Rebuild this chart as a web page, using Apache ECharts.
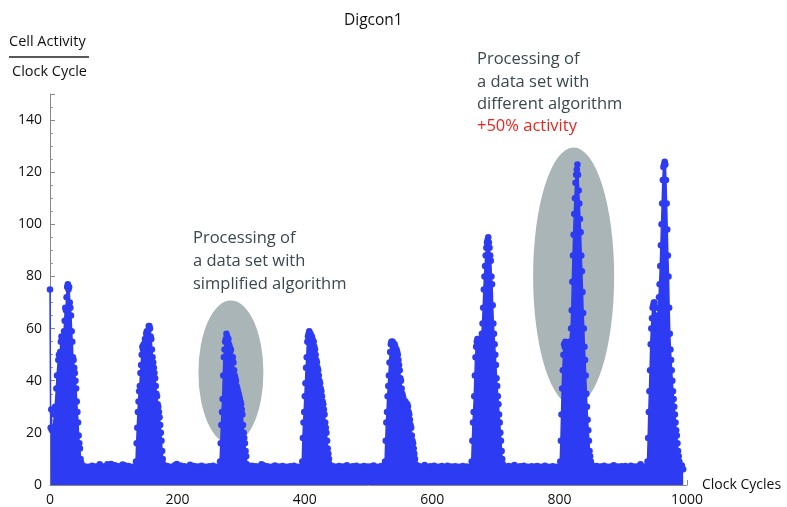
<!DOCTYPE html>
<html>
<head>
<meta charset="utf-8">
<script src="https://cdn.jsdelivr.net/npm/echarts@6/dist/echarts.min.js"></script>
<style>
  html, body { margin: 0; padding: 0; background: #fff; }
  #chart { width: 787px; height: 507px; }
</style>
</head>
<body>
<div id="chart"></div>
<script>
// [clock cycle, cell activity per clock cycle]
const burst1 = [[0,75],[1,22],[2,29],[3,21],[5,22],[7,27],[8,30],[10,37],[11,42],[13,48],[14,50],[16,51],[17,55],[18,57],[20,56],[22,59],[23,63],[24,68],[25,67],[26,72],[27,76],[28,77],[29,75],[30,76],[31,70],[32,68],[33,65],[34,59],[35,55],[36,49],[37,48],[38,45],[39,43],[40,40],[41,37],[42,32],[43,28],[44,24],[45,19],[46,16],[47,14],[48,10],[49,8.5]];
const idle1 = [[51,6.8],[54,7.2],[57,6.5],[60,7.0],[63,6.6],[66,7.4],[69,6.9],[72,7.1],[75,6.4],[78,8.0],[81,7.3],[84,6.7],[87,7.0],[90,8.0],[93,7.2],[96,8.1],[99,6.9],[102,7.6],[105,6.8],[108,7.2],[111,6.6],[114,7.9],[117,7.6],[120,6.6],[123,7.3],[126,6.9],[129,7.0],[132,6.5]];
const burst2 = [[135,9],[136,16],[137,22],[138,28],[139,32],[140,36],[141,38],[142,43],[143,46],[144,50],[145,53],[146,52],[147,54],[148,53],[149,56],[150,55],[151,58],[152,59],[153,57],[154,59],[155,61],[156,61],[157,60],[158,57],[159,56],[160,52],[161,49],[162,47],[163,45],[164,43],[165,41],[166,38],[167,35],[168,34],[169,31],[170,30],[171,28],[172,26],[173,23],[174,20],[175,17],[176,13],[177,10],[178,8]];
const idle2 = [[181,6.9],[184,7.3],[187,6.6],[190,7.0],[193,6.8],[196,7.6],[199,8.1],[202,7.0],[205,7.5],[208,6.7],[211,7.2],[214,6.6],[217,7.0],[220,7.8],[223,6.9],[226,7.3],[229,6.6],[232,7.1],[235,6.8],[238,7.4],[241,6.7],[244,7.0],[247,6.5],[250,7.2],[253,6.9],[256,7.4],[259,6.6],[262,7.0],[265,6.8]];
const burst3 = [[267,9],[268,16],[269,23],[270,28],[271,33],[272,42],[273,49],[274,52],[275,55],[276,56],[277,58],[278,57],[279,55],[280,56],[281,54],[282,53],[283,51],[284,52],[285,49],[286,48],[287,49],[288,47],[289,44],[290,42],[291,41],[292,40],[293,38],[294,37],[295,36],[296,35],[297,34],[298,33],[299,32],[300,31],[301,29],[302,27],[303,23],[304,20],[305,18],[306,16],[307,13],[308,11],[309,8]];
const idle3 = [[311,7.0],[314,6.6],[317,7.4],[320,6.9],[323,7.2],[326,6.5],[329,7.1],[332,8.0],[335,7.6],[338,6.8],[341,7.2],[344,6.6],[347,7.0],[350,6.7],[353,7.5],[356,6.8],[359,7.1],[362,6.6],[365,7.3],[368,6.9],[371,7.0],[374,6.5],[377,7.2],[380,6.8],[383,7.4],[386,6.7],[389,7.0],[392,6.6],[395,7.1]];
const burst4 = [[396,9],[397,18],[398,24],[399,28],[400,34],[401,39],[402,45],[403,49],[404,55],[405,57],[406,58],[407,59],[408,58],[409,58],[410,57],[411,57],[412,56],[413,55],[414,55],[415,53],[416,52],[417,50],[418,48],[419,47],[420,45],[421,44],[422,42],[423,40],[424,39],[425,37],[426,36],[427,34],[428,32],[429,31],[430,29],[431,27],[432,24],[433,22],[434,20],[435,17],[436,14],[437,12],[438,10],[439,8]];
const idle4 = [[442,6.8],[445,7.2],[448,6.6],[451,7.0],[454,7.3],[457,6.7],[460,7.1],[463,6.9],[466,7.6],[469,7.0],[472,6.5],[475,7.2],[478,6.8],[481,7.4],[484,6.6],[487,7.0],[490,6.9],[493,7.3],[496,6.7],[499,7.1],[502,6.6],[505,7.2],[508,7.5],[511,6.8],[514,7.0],[517,6.6],[520,7.3],[523,6.9]];
const burst5 = [[526,9],[527,17],[528,24],[529,28],[530,34],[531,38],[532,42],[533,47],[534,51],[535,54],[536,55],[537,55],[538,55],[539,54],[540,53],[541,54],[542,53],[543,52],[544,52],[545,51],[546,50],[547,48],[548,46],[549,44],[550,41],[551,40],[552,37],[553,35],[554,34],[555,33],[556,31],[557,31],[558,32],[559,31],[560,31],[561,31],[562,30],[563,28],[564,27],[565,25],[566,23],[567,22],[568,19],[569,17],[570,16],[571,14],[572,12],[573,10],[574,8]];
const idle5 = [[576,6.9],[579,7.3],[582,6.6],[585,7.0],[588,7.7],[591,7.1],[594,6.6],[597,7.2],[600,6.8],[603,7.4],[606,6.7],[609,7.0],[612,6.6],[615,7.3],[618,7.0],[621,6.7],[624,7.4],[627,6.8],[630,7.1],[633,6.6],[636,7.2],[639,6.9],[642,7.0],[645,6.5],[648,7.3],[651,6.8],[654,7.1],[657,6.7],[660,7.0]];
const burst6 = [[662,9],[663,17],[664,24],[665,28],[666,34],[667,42],[668,49],[669,53],[670,55],[671,56],[672,56],[673,55],[674,53],[675,56],[676,55],[677,55],[678,58],[679,62],[680,68],[681,75],[682,80],[683,84],[684,88],[685,91],[686,93],[687,94],[688,95],[689,93],[690,91],[691,88],[692,86],[693,80],[694,77],[695,69],[696,62],[697,58],[698,54],[699,50],[700,46],[701,41],[702,38],[703,34],[704,31],[705,27],[706,24],[707,20],[708,17],[709,13],[710,10],[711,8]];
const idle6 = [[714,7.0],[717,6.6],[720,7.3],[723,6.8],[726,7.1],[729,7.7],[732,7.0],[735,6.6],[738,7.2],[741,6.9],[744,7.4],[747,6.7],[750,7.0],[753,6.5],[756,7.2],[759,6.8],[762,7.1],[765,7.3],[768,6.6],[771,7.0],[774,6.8],[777,7.4],[780,6.7],[783,7.0],[786,6.6],[789,7.2],[792,6.9],[795,7.0],[798,6.8]];
const burst7 = [[801,9],[802,17],[803,27],[804,37],[805,44],[806,50],[807,54],[808,53],[809,55],[810,52],[811,53],[812,54],[813,52],[814,53],[815,54],[816,55],[817,55],[818,60],[819,67],[820,78],[821,88],[822,96],[823,104],[824,110],[825,116],[826,119],[827,121],[828,123],[829,119],[830,113],[831,108],[832,102],[833,97],[834,88],[835,82],[836,74],[837,66],[838,60],[839,53],[840,48],[841,42],[842,35],[843,30],[844,25],[845,21],[846,17],[847,13],[848,11],[849,9],[850,8]];
const idle7 = [[852,7.0],[855,6.7],[858,7.3],[861,6.6],[864,7.1],[867,6.9],[870,7.4],[873,6.8],[876,7.0],[879,6.6],[882,7.2],[885,7.6],[888,6.9],[891,7.1],[894,6.5],[897,7.2],[900,6.8],[903,7.3],[906,6.7],[909,7.0],[912,7.4],[915,6.8],[918,7.1],[921,6.6],[924,7.2],[927,8.0],[930,6.7],[933,7.1],[936,6.9]];
const burst8 = [[938,9],[939,18],[940,28],[941,36],[942,44],[943,54],[944,60],[945,64],[946,68],[947,69],[948,70],[949,70],[950,68],[951,64],[952,61],[953,62],[954,65],[955,68],[956,72],[957,77],[958,84],[959,92],[960,100],[961,108],[962,117],[963,122],[964,123],[965,124],[966,123],[967,117],[968,108],[969,98],[970,88],[971,80],[972,68],[973,58],[974,52],[975,48],[976,44],[977,40],[978,36],[979,33],[980,30],[981,27],[982,24],[983,21],[984,19],[985,16],[986,13],[987,11],[988,9],[990,7],[992,7.5],[994,6]];

// shaded highlights: [centre cycle, centre activity, half width (cycles), half height (activity)]
const highlights = [[284, 43.2, 51, 27.6], [822, 80, 63.6, 49.5]];

const blue = '#2d3cf2';
const dark = '#3b484d';

const chart = echarts.init(document.getElementById('chart'));

const activity = [].concat(burst1, idle1, burst2, idle2, burst3, idle3, burst4, idle4,
  burst5, idle5, burst6, idle6, burst7, idle7, burst8);

const option = {
  animation: false,
  textStyle: { fontFamily: 'Open Sans' },
  title: {
    text: 'Digcon1',
    left: 339,
    top: 8,
    textStyle: { fontSize: 15.5, fontWeight: 'normal', color: '#111', fontFamily: 'Open Sans' }
  },
  grid: { left: 50, right: 100, top: 94, bottom: 19, containLabel: false },
  xAxis: {
    type: 'value',
    min: 0,
    max: 1000,
    interval: 200,
    name: 'Clock Cycles',
    nameLocation: 'end',
    nameGap: 15,
    nameTextStyle: { fontSize: 14, color: '#111' },
    axisLine: { lineStyle: { color: '#888', width: 1 } },
    axisTick: { inside: true, length: 5, lineStyle: { color: '#888' } },
    minorTick: { show: true, splitNumber: 4, length: 3, lineStyle: { color: '#999' } },
    axisLabel: { fontSize: 14, color: '#111', margin: 8, formatter: (v) => String(v) },
    splitLine: { show: false }
  },
  yAxis: {
    type: 'value',
    min: 0,
    max: 150,
    interval: 20,
    axisLine: { show: true, lineStyle: { color: '#888', width: 1 } },
    axisTick: { show: true, inside: true, length: 5, lineStyle: { color: '#888' } },
    minorTick: { show: true, splitNumber: 4, length: 3, lineStyle: { color: '#999' } },
    axisLabel: { fontSize: 14, color: '#111', margin: 8, showMaxLabel: false },
    splitLine: { show: false }
  },
  graphic: [
    {
      type: 'text', left: 9, top: 34,
      style: { text: 'Cell Activity', fontSize: 14.5, fontFamily: 'Open Sans', fill: '#111' }
    },
    {
      type: 'line',
      shape: { x1: 9, y1: 57, x2: 89, y2: 57 },
      style: { stroke: '#222', lineWidth: 1.5 }
    },
    {
      type: 'text', left: 12, top: 64,
      style: { text: 'Clock Cycle', fontSize: 14.5, fontFamily: 'Open Sans', fill: '#111' }
    },
    {
      type: 'text', left: 193, top: 227,
      style: {
        text: 'Processing of\na data set with\nsimplified algorithm',
        fontSize: 16.5, lineHeight: 23, fontFamily: 'Open Sans', fill: dark
      }
    },
    {
      type: 'text', left: 477, top: 51,
      style: {
        text: '{a|Processing of}\n{a|a data set with}\n{a|different algorithm}\n{b|+50% activity}',
        fontFamily: 'Open Sans',
        rich: {
          a: { fontSize: 16.5, lineHeight: 22.4, fill: dark, fontFamily: 'Open Sans' },
          b: { fontSize: 16.5, lineHeight: 22.4, fill: '#e8261e', fontFamily: 'Open Sans' }
        }
      }
    }
  ],
  series: [
    {
      type: 'custom',
      z: 1,
      silent: true,
      data: highlights,
      encode: { x: 0, y: 1 },
      renderItem: (params, api) => {
        const c = api.coord([api.value(0), api.value(1)]);
        const s = api.size([api.value(2), api.value(3)]);
        return {
          type: 'circle',
          x: c[0],
          y: c[1],
          scaleX: s[0],
          scaleY: s[1],
          shape: { cx: 0, cy: 0, r: 1 },
          style: { fill: '#a9b5b7' }
        };
      }
    },
    {
      type: 'line',
      z: 3,
      data: activity,
      symbol: 'circle',
      symbolSize: 6.5,
      showSymbol: true,
      lineStyle: { color: blue, width: 1.5 },
      itemStyle: { color: blue },
      areaStyle: { color: blue, opacity: 1 }
    }
  ]
};

chart.setOption(option);
</script>
</body>
</html>
